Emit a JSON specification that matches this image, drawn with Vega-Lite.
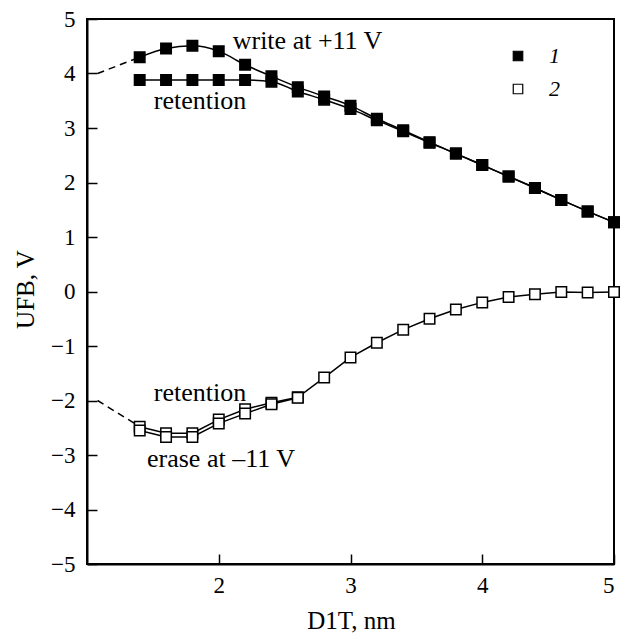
{
  "$schema": "https://vega.github.io/schema/vega-lite/v6.json",
  "width": 527,
  "height": 545,
  "autosize": {"type": "none"},
  "padding": {"left": 87, "top": 19, "right": 10, "bottom": 71},
  "background": "white",
  "config": {
    "view": {"stroke": "black", "strokeWidth": 2},
    "font": "Liberation Serif, Times New Roman, serif",
    "axis": {
      "domainColor": "black", "domainWidth": 2, "tickColor": "black", "tickWidth": 1.5,
      "tickSize": -10, "grid": false, "labelFont": "Liberation Serif, Times New Roman, serif", "labelFontSize": 23,
      "labelColor": "black", "titleFont": "Liberation Serif, Times New Roman, serif", "titleFontSize": 25,
      "titleColor": "black", "titleFontWeight": "normal"
    },
    "legend": {"labelFont": "Liberation Serif, Times New Roman, serif"},
    "text": {"font": "Liberation Serif, Times New Roman, serif"}
  },
  "datasets": {
    "pts": [
      {"x": 1.4, "y": 4.30, "curve": "w", "series": "1"},
      {"x": 1.6, "y": 4.46, "curve": "w", "series": "1"},
      {"x": 1.8, "y": 4.51, "curve": "w", "series": "1"},
      {"x": 2.0, "y": 4.41, "curve": "w", "series": "1"},
      {"x": 2.2, "y": 4.16, "curve": "w", "series": "1"},
      {"x": 2.4, "y": 3.95, "curve": "w", "series": "1"},
      {"x": 2.6, "y": 3.75, "curve": "w", "series": "1"},
      {"x": 2.8, "y": 3.58, "curve": "w", "series": "1"},
      {"x": 3.0, "y": 3.41, "curve": "w", "series": "1"},
      {"x": 3.2, "y": 3.17, "curve": "w", "series": "1"},
      {"x": 3.4, "y": 2.96, "curve": "w", "series": "1"},
      {"x": 3.6, "y": 2.74, "curve": "w", "series": "1"},
      {"x": 3.8, "y": 2.53, "curve": "w", "series": "1"},
      {"x": 4.0, "y": 2.32, "curve": "w", "series": "1"},
      {"x": 4.2, "y": 2.11, "curve": "w", "series": "1"},
      {"x": 4.4, "y": 1.90, "curve": "w", "series": "1"},
      {"x": 4.6, "y": 1.68, "curve": "w", "series": "1"},
      {"x": 4.8, "y": 1.47, "curve": "w", "series": "1"},
      {"x": 5.0, "y": 1.27, "curve": "w", "series": "1"},
      {"x": 1.4, "y": 3.88, "curve": "r1", "series": "1"},
      {"x": 1.6, "y": 3.88, "curve": "r1", "series": "1"},
      {"x": 1.8, "y": 3.88, "curve": "r1", "series": "1"},
      {"x": 2.0, "y": 3.88, "curve": "r1", "series": "1"},
      {"x": 2.2, "y": 3.88, "curve": "r1", "series": "1"},
      {"x": 2.4, "y": 3.85, "curve": "r1", "series": "1"},
      {"x": 2.6, "y": 3.67, "curve": "r1", "series": "1"},
      {"x": 2.8, "y": 3.52, "curve": "r1", "series": "1"},
      {"x": 3.0, "y": 3.35, "curve": "r1", "series": "1"},
      {"x": 3.2, "y": 3.14, "curve": "r1", "series": "1"},
      {"x": 3.4, "y": 2.94, "curve": "r1", "series": "1"},
      {"x": 3.6, "y": 2.73, "curve": "r1", "series": "1"},
      {"x": 3.8, "y": 2.53, "curve": "r1", "series": "1"},
      {"x": 4.0, "y": 2.32, "curve": "r1", "series": "1"},
      {"x": 4.2, "y": 2.11, "curve": "r1", "series": "1"},
      {"x": 4.4, "y": 1.90, "curve": "r1", "series": "1"},
      {"x": 4.6, "y": 1.68, "curve": "r1", "series": "1"},
      {"x": 4.8, "y": 1.47, "curve": "r1", "series": "1"},
      {"x": 5.0, "y": 1.27, "curve": "r1", "series": "1"},
      {"x": 1.4, "y": -2.48, "curve": "r2", "series": "2"},
      {"x": 1.6, "y": -2.60, "curve": "r2", "series": "2"},
      {"x": 1.8, "y": -2.60, "curve": "r2", "series": "2"},
      {"x": 2.0, "y": -2.35, "curve": "r2", "series": "2"},
      {"x": 2.2, "y": -2.16, "curve": "r2", "series": "2"},
      {"x": 2.4, "y": -2.04, "curve": "r2", "series": "2"},
      {"x": 2.6, "y": -1.94, "curve": "r2", "series": "2"},
      {"x": 2.8, "y": -1.58, "curve": "r2", "series": "2"},
      {"x": 3.0, "y": -1.21, "curve": "r2", "series": "2"},
      {"x": 3.2, "y": -0.94, "curve": "r2", "series": "2"},
      {"x": 3.4, "y": -0.70, "curve": "r2", "series": "2"},
      {"x": 3.6, "y": -0.50, "curve": "r2", "series": "2"},
      {"x": 3.8, "y": -0.33, "curve": "r2", "series": "2"},
      {"x": 4.0, "y": -0.20, "curve": "r2", "series": "2"},
      {"x": 4.2, "y": -0.10, "curve": "r2", "series": "2"},
      {"x": 4.4, "y": -0.05, "curve": "r2", "series": "2"},
      {"x": 4.6, "y": -0.01, "curve": "r2", "series": "2"},
      {"x": 4.8, "y": -0.02, "curve": "r2", "series": "2"},
      {"x": 5.0, "y": -0.01, "curve": "r2", "series": "2"},
      {"x": 1.4, "y": -2.55, "curve": "e", "series": "2"},
      {"x": 1.6, "y": -2.67, "curve": "e", "series": "2"},
      {"x": 1.8, "y": -2.67, "curve": "e", "series": "2"},
      {"x": 2.0, "y": -2.42, "curve": "e", "series": "2"},
      {"x": 2.2, "y": -2.24, "curve": "e", "series": "2"},
      {"x": 2.4, "y": -2.07, "curve": "e", "series": "2"},
      {"x": 2.6, "y": -1.95, "curve": "e", "series": "2"}
    ],
    "dash": [
      {"x": 1.08, "y": 4.0, "seg": "a"},
      {"x": 1.4, "y": 4.30, "seg": "a"},
      {"x": 1.08, "y": -2.0, "seg": "b"},
      {"x": 1.4, "y": -2.48, "seg": "b"}
    ],
    "labels": [
      {"x": 2.674, "y": 4.59, "text": "write at +11 V"},
      {"x": 1.858, "y": 3.49, "text": "retention"},
      {"x": 1.858, "y": -1.86, "text": "retention"},
      {"x": 2.017, "y": -3.07, "text": "erase at –11 V"}
    ]
  },
  "encoding": {
    "x": {"field": "x", "type": "quantitative",
      "scale": {"domain": [1, 5], "nice": false, "zero": false},
      "axis": {"values": [2, 3, 4, 5], "title": "D1T, nm", "labelPadding": 20,
        "titleX": 264, "titleY": 56, "titleBaseline": "middle", "titleAlign": "center"}},
    "y": {"field": "y", "type": "quantitative",
      "scale": {"domain": [-5, 5], "nice": false},
      "axis": {"values": [-5, -4, -3, -2, -1, 0, 1, 2, 3, 4, 5], "title": "UFB, V", "labelPadding": 22,
        "titleX": -62, "titleY": 270, "titleBaseline": "middle", "titleAlign": "center", "titleAngle": -90}}
  },
  "layer": [
    {
      "data": {"name": "dash"},
      "mark": {"type": "line", "color": "black", "strokeWidth": 1.5, "strokeDash": [7, 5]},
      "encoding": {"detail": {"field": "seg"}}
    },
    {
      "data": {"name": "pts"},
      "transform": [{"filter": "datum.series == '1'"}],
      "mark": {"type": "line", "color": "black", "strokeWidth": 1.5, "interpolate": "monotone"},
      "encoding": {"detail": {"field": "curve"}}
    },
    {
      "data": {"name": "pts"},
      "transform": [{"filter": "datum.series == '2'"}],
      "mark": {"type": "line", "color": "black", "strokeWidth": 1.5},
      "encoding": {"detail": {"field": "curve"}}
    },
    {
      "data": {"name": "pts"},
      "mark": {"type": "point", "shape": "square", "size": 110, "stroke": "black", "strokeWidth": 1.5, "filled": true, "opacity": 1},
      "encoding": {
        "fill": {"field": "series", "type": "nominal",
          "scale": {"domain": ["1", "2"], "range": ["black", "white"]},
          "legend": {"title": null, "orient": "none", "legendX": 420, "legendY": 26,
            "symbolType": "square", "symbolSize": 90, "symbolStrokeColor": "black", "symbolStrokeWidth": 1.2,
            "labelFont": "Liberation Serif, Times New Roman, serif", "labelFontStyle": "italic", "labelFontSize": 22,
            "labelOffset": 20, "rowPadding": 11, "padding": 0}}
      }
    },
    {
      "data": {"name": "labels"},
      "mark": {"type": "text", "font": "Liberation Serif, Times New Roman, serif", "fontSize": 26, "color": "black"},
      "encoding": {"text": {"field": "text"}}
    }
  ]
}
